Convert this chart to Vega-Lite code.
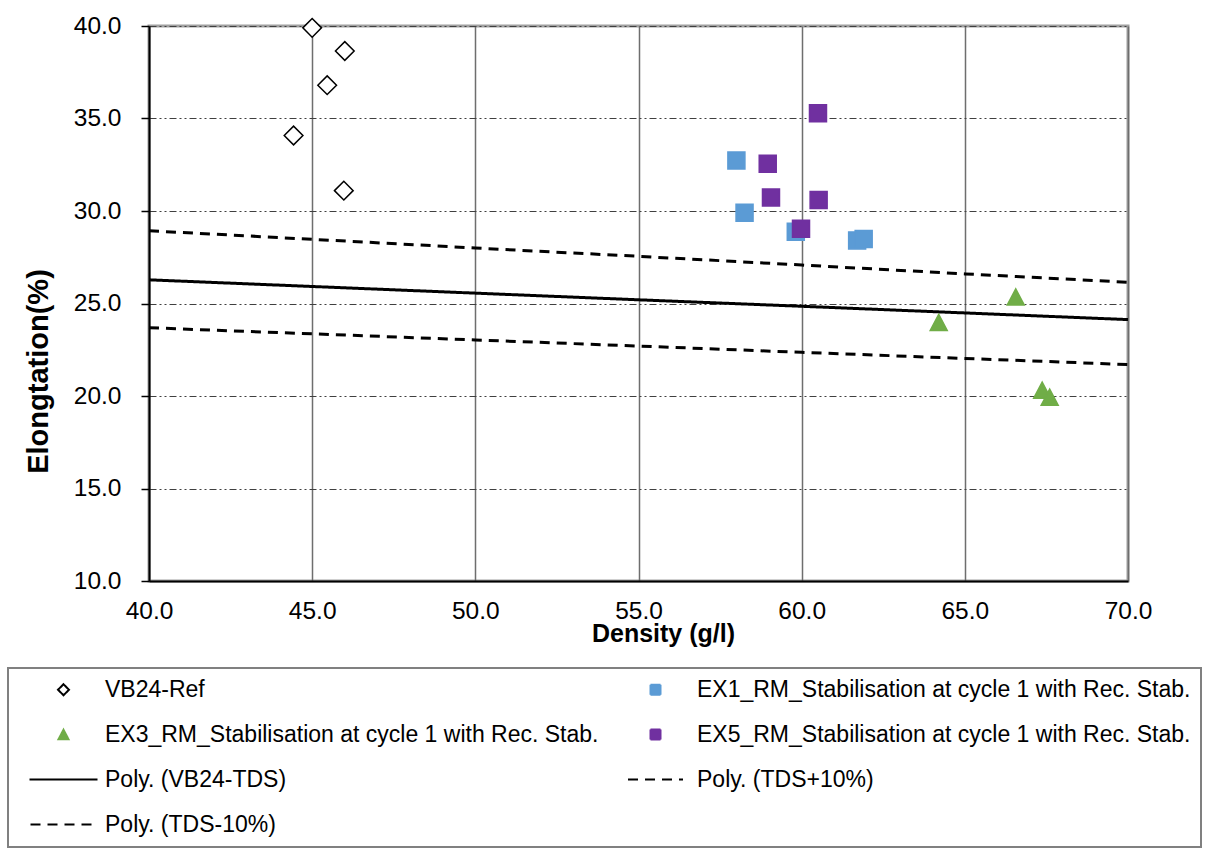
{
  "$schema": "https://vega.github.io/schema/vega-lite/v6.json",
  "width": 979,
  "height": 555,
  "autosize": {"type": "none"},
  "padding": {"left": 149, "top": 26, "right": 85, "bottom": 269},
  "background": "white",
  "config": {
    "font": "Liberation Sans",
    "view": {"stroke": "#a0a0a0", "strokeWidth": 3},
    "legend": {
      "labelFont": "Liberation Sans",
      "labelFontSize": 23,
      "labelColor": "black",
      "labelLimit": 0,
      "symbolSize": 100,
      "symbolStrokeWidth": 2,
      "symbolOffset": 34,
      "labelOffset": 30,
      "rowPadding": 21,
      "columnPadding": 11,
      "padding": 10,
      "strokeColor": "#808080",
      "strokeWidth": 2
    }
  },
  "datasets": {
    "points": [
      {"series": "VB24-Ref", "density": 45.0, "elong": 39.9},
      {"series": "VB24-Ref", "density": 46.0, "elong": 38.65},
      {"series": "VB24-Ref", "density": 45.46, "elong": 36.8},
      {"series": "VB24-Ref", "density": 44.43, "elong": 34.08},
      {"series": "VB24-Ref", "density": 45.97, "elong": 31.1},
      {"series": "EX1_RM_Stabilisation at cycle 1 with Rec. Stab.", "density": 58.0, "elong": 32.73},
      {"series": "EX1_RM_Stabilisation at cycle 1 with Rec. Stab.", "density": 58.25, "elong": 29.9},
      {"series": "EX1_RM_Stabilisation at cycle 1 with Rec. Stab.", "density": 59.82, "elong": 28.88},
      {"series": "EX1_RM_Stabilisation at cycle 1 with Rec. Stab.", "density": 61.7, "elong": 28.41},
      {"series": "EX1_RM_Stabilisation at cycle 1 with Rec. Stab.", "density": 61.9, "elong": 28.48},
      {"series": "EX3_RM_Stabilisation at cycle 1 with Rec. Stab.", "density": 66.56, "elong": 25.35},
      {"series": "EX3_RM_Stabilisation at cycle 1 with Rec. Stab.", "density": 64.2, "elong": 23.98},
      {"series": "EX3_RM_Stabilisation at cycle 1 with Rec. Stab.", "density": 67.37, "elong": 20.31},
      {"series": "EX3_RM_Stabilisation at cycle 1 with Rec. Stab.", "density": 67.6, "elong": 19.93},
      {"series": "EX5_RM_Stabilisation at cycle 1 with Rec. Stab.", "density": 60.5, "elong": 35.29},
      {"series": "EX5_RM_Stabilisation at cycle 1 with Rec. Stab.", "density": 58.96, "elong": 32.56},
      {"series": "EX5_RM_Stabilisation at cycle 1 with Rec. Stab.", "density": 59.06, "elong": 30.73},
      {"series": "EX5_RM_Stabilisation at cycle 1 with Rec. Stab.", "density": 60.52, "elong": 30.59},
      {"series": "EX5_RM_Stabilisation at cycle 1 with Rec. Stab.", "density": 59.98, "elong": 29.04}
    ],
    "lines": [
      {"series": "Poly. (VB24-TDS)", "density": 40, "elong": 26.28},
      {"series": "Poly. (VB24-TDS)", "density": 45, "elong": 25.92},
      {"series": "Poly. (VB24-TDS)", "density": 50, "elong": 25.56},
      {"series": "Poly. (VB24-TDS)", "density": 55, "elong": 25.2},
      {"series": "Poly. (VB24-TDS)", "density": 60, "elong": 24.85},
      {"series": "Poly. (VB24-TDS)", "density": 65, "elong": 24.49},
      {"series": "Poly. (VB24-TDS)", "density": 70, "elong": 24.13},
      {"series": "Poly. (TDS+10%)", "density": 40, "elong": 28.93},
      {"series": "Poly. (TDS+10%)", "density": 45, "elong": 28.47},
      {"series": "Poly. (TDS+10%)", "density": 50, "elong": 28.0},
      {"series": "Poly. (TDS+10%)", "density": 55, "elong": 27.55},
      {"series": "Poly. (TDS+10%)", "density": 60, "elong": 27.08},
      {"series": "Poly. (TDS+10%)", "density": 65, "elong": 26.6},
      {"series": "Poly. (TDS+10%)", "density": 70, "elong": 26.15},
      {"series": "Poly. (TDS-10%)", "density": 40, "elong": 23.69},
      {"series": "Poly. (TDS-10%)", "density": 45, "elong": 23.36},
      {"series": "Poly. (TDS-10%)", "density": 50, "elong": 23.03},
      {"series": "Poly. (TDS-10%)", "density": 55, "elong": 22.7},
      {"series": "Poly. (TDS-10%)", "density": 60, "elong": 22.36},
      {"series": "Poly. (TDS-10%)", "density": 65, "elong": 22.03},
      {"series": "Poly. (TDS-10%)", "density": 70, "elong": 21.7}
    ]
  },
  "encoding": {
    "x": {
      "field": "density",
      "type": "quantitative",
      "scale": {"domain": [40, 70], "nice": false, "zero": false},
      "axis": {
        "title": "Density (g/l)",
        "values": [40, 45, 50, 55, 60, 65, 70],
        "format": ".1f",
        "ticks": false,
        "labelPadding": 18,
        "labelFontSize": 24.5,
        "labelColor": "black",
        "labelFlush": false,
        "labelOverlap": false,
        "domainColor": "black",
        "domainWidth": 2,
        "grid": true,
        "gridColor": "#6e6e6e",
        "gridWidth": 1.5,
        "titleFontSize": 25,
        "titleFontWeight": "bold",
        "titleColor": "black",
        "titleX": 514,
        "titleY": 60,
        "titleBaseline": "alphabetic"
      }
    },
    "y": {
      "field": "elong",
      "type": "quantitative",
      "scale": {"domain": [10, 40], "nice": false, "zero": false},
      "axis": {
        "title": "Elongtation(%)",
        "values": [10, 15, 20, 25, 30, 35, 40],
        "format": ".1f",
        "ticks": true,
        "tickSize": 8,
        "tickColor": "black",
        "tickWidth": 1.5,
        "labelPadding": 20,
        "labelFontSize": 24.5,
        "labelColor": "black",
        "labelFlush": false,
        "labelOverlap": false,
        "domainColor": "black",
        "domainWidth": 2,
        "grid": true,
        "gridColor": "#404040",
        "gridWidth": 1,
        "gridDash": [7, 3, 2, 3, 2, 3],
        "titleFontSize": 29,
        "titleFontWeight": "bold",
        "titleColor": "black",
        "titleX": -102,
        "titleY": 345,
        "titleBaseline": "alphabetic"
      }
    }
  },
  "layer": [
    {
      "data": {"name": "lines"},
      "mark": {"type": "line", "strokeWidth": 3},
      "encoding": {
        "stroke": {
          "field": "series",
          "type": "nominal",
          "scale": {
            "domain": ["VB24-Ref", "EX1_RM_Stabilisation at cycle 1 with Rec. Stab.", "EX3_RM_Stabilisation at cycle 1 with Rec. Stab.", "EX5_RM_Stabilisation at cycle 1 with Rec. Stab.", "Poly. (VB24-TDS)", "Poly. (TDS+10%)", "Poly. (TDS-10%)"],
            "range": ["black", "#5B9BD5", "#70AD47", "#7030A0", "black", "black", "black"]
          },
          "legend": {"title": null, "orient": "none", "legendX": -141, "legendY": 642, "columns": 2, "direction": "horizontal"}
        },
        "strokeDash": {
          "field": "series",
          "type": "nominal",
          "scale": {
            "domain": ["VB24-Ref", "EX1_RM_Stabilisation at cycle 1 with Rec. Stab.", "EX3_RM_Stabilisation at cycle 1 with Rec. Stab.", "EX5_RM_Stabilisation at cycle 1 with Rec. Stab.", "Poly. (VB24-TDS)", "Poly. (TDS+10%)", "Poly. (TDS-10%)"],
            "range": [[1, 0], [1, 0], [1, 0], [1, 0], [1, 0], [10, 7], [10, 7]]
          },
          "legend": {"title": null, "orient": "none", "legendX": -141, "legendY": 642, "columns": 2, "direction": "horizontal"}
        }
      }
    },
    {
      "data": {"name": "points"},
      "mark": {"type": "point", "filled": true, "size": 289, "strokeWidth": 1.5, "opacity": 1},
      "encoding": {
        "fill": {
          "field": "series",
          "type": "nominal",
          "scale": {
            "domain": ["VB24-Ref", "EX1_RM_Stabilisation at cycle 1 with Rec. Stab.", "EX3_RM_Stabilisation at cycle 1 with Rec. Stab.", "EX5_RM_Stabilisation at cycle 1 with Rec. Stab.", "Poly. (VB24-TDS)", "Poly. (TDS+10%)", "Poly. (TDS-10%)"],
            "range": ["white", "#5B9BD5", "#70AD47", "#7030A0", "transparent", "transparent", "transparent"]
          },
          "legend": {"title": null, "orient": "none", "legendX": -141, "legendY": 642, "columns": 2, "direction": "horizontal"}
        },
        "stroke": {"field": "series", "type": "nominal"},
        "shape": {
          "field": "series",
          "type": "nominal",
          "scale": {
            "domain": ["VB24-Ref", "EX1_RM_Stabilisation at cycle 1 with Rec. Stab.", "EX3_RM_Stabilisation at cycle 1 with Rec. Stab.", "EX5_RM_Stabilisation at cycle 1 with Rec. Stab.", "Poly. (VB24-TDS)", "Poly. (TDS+10%)", "Poly. (TDS-10%)"],
            "range": ["M-1.1,0L0,-1.1L1.1,0L0,1.1Z", "square", "M0,-0.95L1,0.95L-1,0.95Z", "square", "M-6.8,0H6.8", "M-5.5,0H5.5", "M-6.6,0H6.6"]
          },
          "legend": {"title": null, "orient": "none", "legendX": -141, "legendY": 642, "columns": 2, "direction": "horizontal"}
        }
      }
    }
  ]
}
